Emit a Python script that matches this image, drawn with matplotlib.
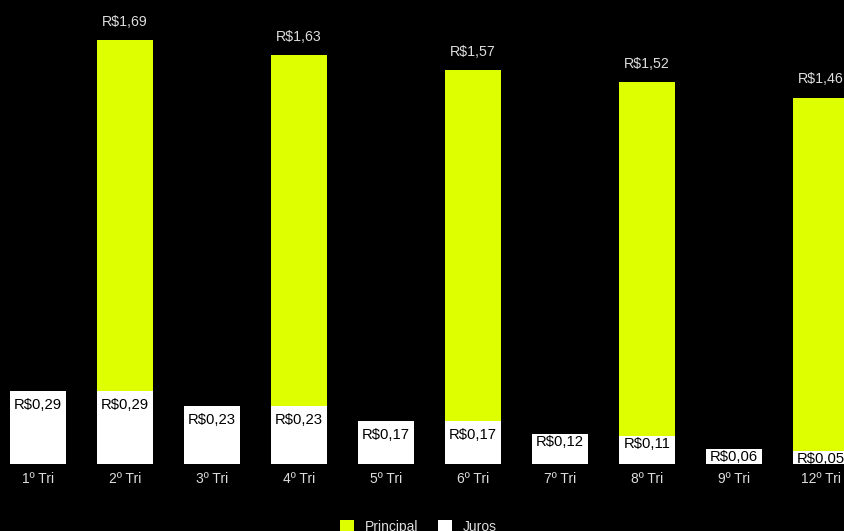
import matplotlib.pyplot as plt
import numpy as np

plt.rcParams['font.family'] = ['Liberation Sans', 'DejaVu Sans']

categorias = ["1º Tri", "2º Tri", "3º Tri", "4º Tri", "5º Tri", "6º Tri", "7º Tri", "8º Tri", "9º Tri", "12º Tri"]
principal = [np.nan, 1.69, np.nan, 1.63, np.nan, 1.57, np.nan, 1.52, np.nan, 1.46]
juros = [0.29, 0.29, 0.23, 0.23, 0.17, 0.17, 0.12, 0.11, 0.06, 0.05]

def brl(v):
    return "R$" + f"{v:.2f}".replace(".", ",")

fig = plt.figure(figsize=(8.44, 5.31), dpi=100, facecolor='black')
ax = fig.add_axes([0, 67 / 531, 1, 464 / 531])
ax.set_facecolor('black')

x = np.arange(len(categorias))
largura = 0.644
px = 1 / 251  # um pixel em unidades do eixo y

# Principal vai do zero até o valor, juros desenhado na frente
b1 = ax.bar(x, principal, width=largura, color='#DDFF00', label='Principal', zorder=2)
b2 = ax.bar(x, juros, width=largura, color='white', label='Juros', zorder=3)

for xi, v in zip(x, principal):
    if not np.isnan(v):
        ax.annotate(brl(v), (xi, v), xytext=(0, 8), textcoords='offset points',
                    ha='center', va='bottom', color='#dddddd', fontsize=10.2)

for xi, v in zip(x, juros):
    # rótulo dentro da barra, mais perto do topo quando a barra é baixa
    h = v / px
    off = 14 if v >= 0.15 else min(8, h / 2 + 1)
    ax.text(xi, v - off * px, brl(v), ha='center', va='center',
            color='black', fontsize=10.7, zorder=4)

ax.set_xlim(-38 / 87, 806 / 87)
ax.set_ylim(0, 464 / 251)
ax.set_xticks(x)
ax.set_xticklabels(categorias, color='#dddddd', fontsize=10)
ax.tick_params(axis='x', length=0, pad=6)
ax.set_yticks([])
for s in ax.spines.values():
    s.set_visible(False)

fig.legend(handles=[b1, b2], loc='upper center', bbox_to_anchor=(0.496, 0.045), ncol=2,
           frameon=False, labelcolor='#dddddd', fontsize=10, handlelength=1.0,
           handleheight=1.0, columnspacing=1.4, handletextpad=0.8)

fig.savefig('out.png', dpi=100, facecolor='black')
